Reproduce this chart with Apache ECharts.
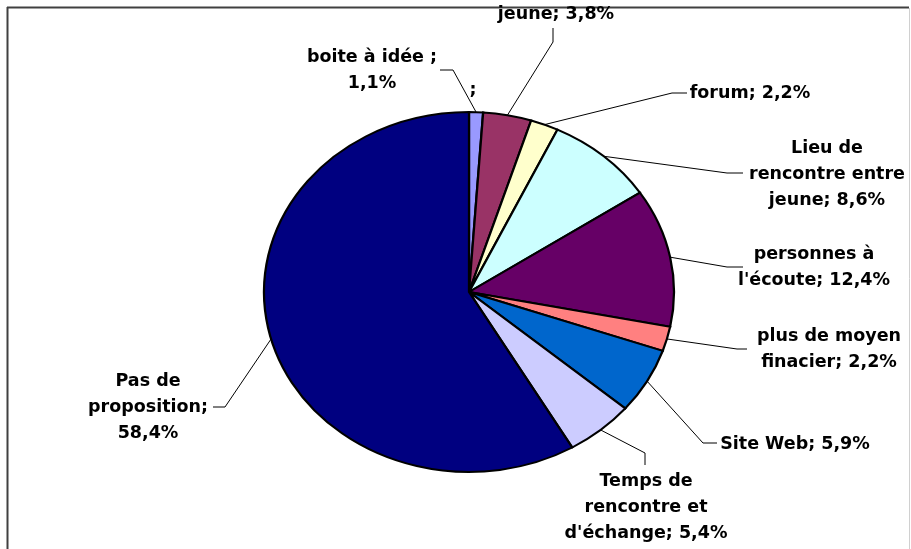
<!DOCTYPE html>
<html>
<head>
<meta charset="utf-8">
<script src="https://cdn.jsdelivr.net/npm/echarts@6/dist/echarts.min.js"></script>
<style>
  html, body { margin: 0; padding: 0; background: #fff; }
  #main { width: 911px; height: 549px; }
</style>
</head>
<body>
<div id="main"></div>
<script>
// donnees du camembert (sens horaire depuis midi)
var categories = [
  "boite à idée ",
  "jeune",
  "forum",
  "Lieu de\nrencontre entre\njeune",
  "personnes à\nl'écoute",
  "plus de moyen\nfinacier",
  "Site Web",
  "Temps de\nrencontre et\nd'échange",
  "Pas de\nproposition"
];
var values = [1.1, 3.8, 2.2, 8.6, 12.4, 2.2, 5.9, 5.4, 58.4];
var colors = ["#9999ff", "#993366", "#ffffcc", "#ccffff", "#660066", "#ff8080", "#0066cc", "#ccccff", "#000080"];

// placement des etiquettes (centre du texte + coude du trait de rappel)
var labelPos = [
  { x: 372, y: 70, sep: ";\n", line: [[440, 70], [453, 70]] },
  { x: 556, y: 14, sep: "; ", line: [[553, 28], [553, 42]] },
  { x: 750, y: 93, sep: "; ", line: [[687, 93], [672, 93]] },
  { x: 827, y: 174, sep: "; ", line: [[743, 173], [727, 173]] },
  { x: 814, y: 267, sep: "; ", line: [[743, 267], [727, 267]] },
  { x: 829, y: 349, sep: "; ", line: [[747, 349], [737, 349]] },
  { x: 795, y: 444, sep: "; ", line: [[717, 443], [703, 443]] },
  { x: 646, y: 507, sep: "; ", line: [[645, 465], [645, 453]] },
  { x: 148, y: 407, sep: ";\n", line: [[213, 407], [225, 407]] }
];

var CX = 469, CY = 292, RX = 205, RY = 180;
var FONT = 'bold 17.5px "DejaVu Sans"';

function pct(v) {
  return v.toFixed(1).replace(".", ",") + "%";
}

function renderItem(params, api) {
  var i = params.dataIndex;
  var total = 0, before = 0;
  for (var k = 0; k < values.length; k++) {
    total += values[k];
    if (k < i) before += values[k];
  }
  var a0 = -Math.PI / 2 + (before / total) * Math.PI * 2;
  var a1 = a0 + (api.value(0) / total) * Math.PI * 2;
  var mid = (a0 + a1) / 2;
  var ax = CX + RX * Math.cos(mid);
  var ay = CY + RY * Math.sin(mid);
  var lp = labelPos[i];
  return {
    type: "group",
    children: [
      {
        type: "sector",
        x: CX,
        y: CY,
        scaleX: RX / RY,
        shape: { cx: 0, cy: 0, r0: 0, r: RY, startAngle: a0, endAngle: a1, clockwise: true },
        style: { fill: colors[i], stroke: "#000", lineWidth: 2, strokeNoScale: true }
      },
      {
        type: "polyline",
        shape: { points: lp.line.concat([[ax, ay]]) },
        style: { stroke: "#000", lineWidth: 1, fill: "none" }
      },
      {
        type: "text",
        x: lp.x,
        y: lp.y,
        style: {
          text: categories[i] + lp.sep + pct(api.value(0)),
          align: "center",
          verticalAlign: "middle",
          font: FONT,
          lineHeight: 26,
          fill: "#000"
        }
      }
    ]
  };
}

var myChart = echarts.init(document.getElementById("main"));
myChart.setOption({
  animation: false,
  backgroundColor: "#fff",
  graphic: [
    { type: "line", shape: { x1: 7, y1: 7.5, x2: 909, y2: 7.5 }, style: { stroke: "#404040", lineWidth: 2 } },
    { type: "line", shape: { x1: 7.5, y1: 7, x2: 7.5, y2: 549 }, style: { stroke: "#404040", lineWidth: 2 } },
    { type: "line", shape: { x1: 909.5, y1: 8, x2: 909.5, y2: 549 }, style: { stroke: "#d0d0d0", lineWidth: 1 } },
    { type: "text", x: 473, y: 90, style: { text: ";", font: FONT, align: "center", verticalAlign: "middle", fill: "#000" } }
  ],
  series: [
    {
      type: "custom",
      coordinateSystem: "none",
      renderItem: renderItem,
      data: values.map(function (v, i) {
        return { name: categories[i], value: v };
      })
    }
  ]
});
</script>
</body>
</html>
